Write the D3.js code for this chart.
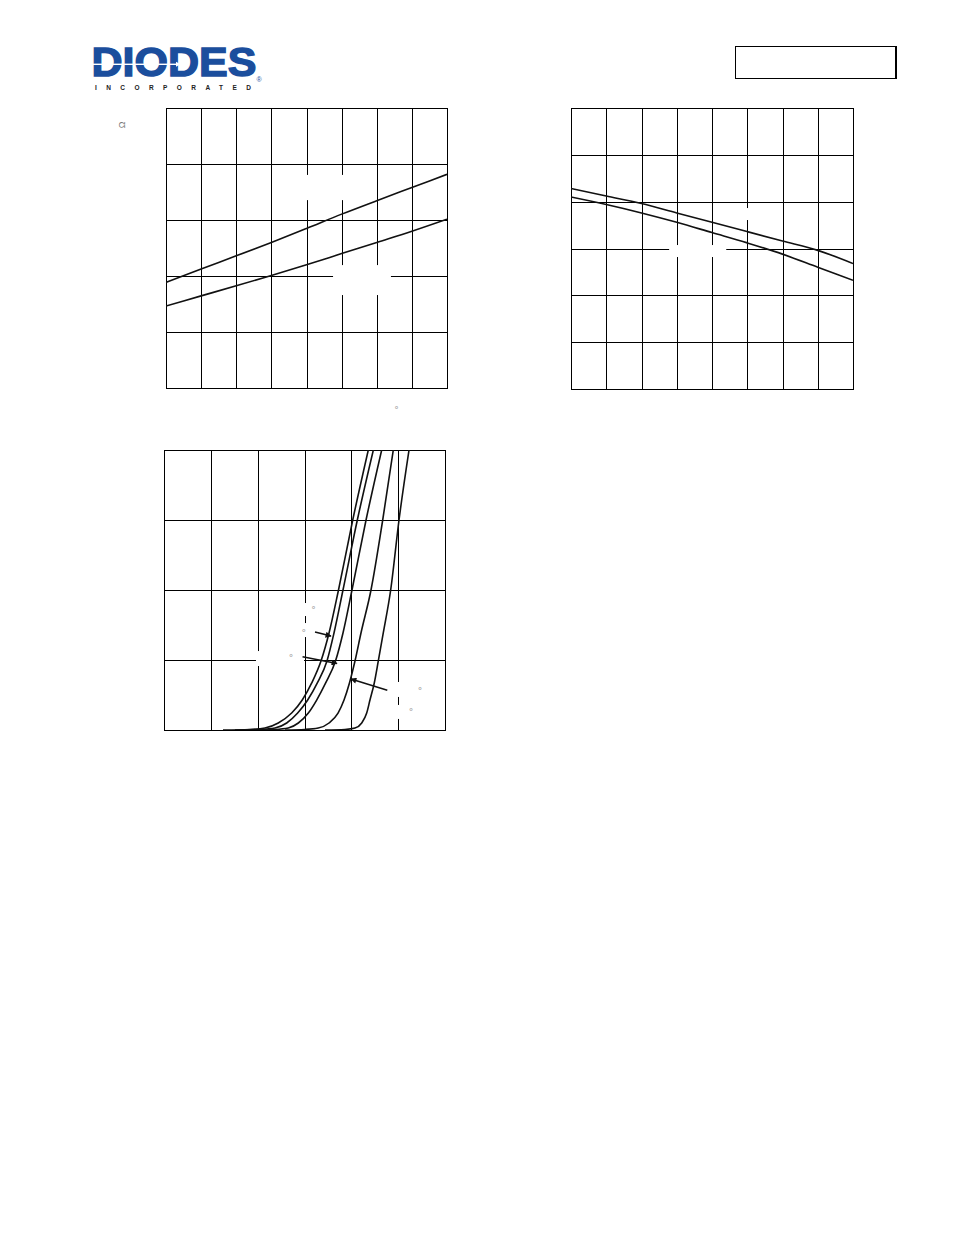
<!DOCTYPE html>
<html><head><meta charset="utf-8">
<script src="https://cdn.jsdelivr.net/npm/d3@7"></script>
<style>body{margin:0;background:#fff}svg{display:block}</style>
</head><body><div id="c"></div>
<script>
// ---------- data ----------
// Chart 1: on-resistance vs temperature
const temps = [-50, -25, 0, 25, 50, 75, 100, 125, 150];
const rdsUpper = [0.0377, 0.0425, 0.0472, 0.0520, 0.0570, 0.0621, 0.0669, 0.0716, 0.0763];
const rdsLower = [0.0293, 0.0329, 0.0365, 0.0402, 0.0440, 0.0480, 0.0520, 0.0560, 0.0603];
const rdsTicks = [0, 0.02, 0.04, 0.06, 0.08, 0.10];
const tempTicks = [-50, -25, 0, 25, 50, 75, 100, 125, 150];
// Chart 2: gate threshold voltage vs temperature
const vthUpper = [2.14, 2.06, 1.98, 1.88, 1.78, 1.68, 1.58, 1.48, 1.34];
const vthLower = [2.05, 1.97, 1.88, 1.78, 1.67, 1.56, 1.44, 1.30, 1.16];
const vthTicks = [0, 0.5, 1, 1.5, 2, 2.5, 3];
// Chart 3: drain current vs gate-source voltage (five temperatures)
const idLevels = [0, 0.04, 0.14, 0.5, 1.21, 2.14, 3.36, 4.93, 6.93, 10, 15, 20];
const vgsCurve1 = [0.630, 0.918, 1.078, 1.220, 1.363, 1.476, 1.577, 1.676, 1.762, 1.863, 2.015, 2.181];
const vgsCurve2 = [0.758, 1.025, 1.185, 1.310, 1.427, 1.534, 1.637, 1.740, 1.815, 1.911, 2.064, 2.235];
const vgsCurve3 = [0.918, 1.185, 1.327, 1.434, 1.541, 1.630, 1.726, 1.831, 1.911, 2.007, 2.157, 2.324];
const vgsCurve4 = [1.292, 1.505, 1.647, 1.762, 1.858, 1.922, 1.980, 2.039, 2.103, 2.210, 2.335, 2.448];
const vgsCurve5 = [1.719, 1.932, 2.039, 2.111, 2.164, 2.199, 2.245, 2.288, 2.341, 2.420, 2.509, 2.616];
const vgsTicks = [0, 0.5, 1, 1.5, 2, 2.5, 3];
const idTicks = [0, 5, 10, 15, 20];

// ---------- drawing ----------
const svg = d3.select("#c").append("svg").attr("width", 954).attr("height", 1235);

// header logo
const logo = svg.append("g");
logo.append("text").attr("x", 91.5).attr("y", 76).text("DIODES")
  .attr("font-family", "Liberation Sans, Arial, sans-serif").attr("font-weight", "bold")
  .attr("font-size", 41).attr("textLength", 165).attr("lengthAdjust", "spacingAndGlyphs")
  .attr("fill", "#1b4e9d").attr("stroke", "#1b4e9d").attr("stroke-width", 1.4)
  .attr("stroke-linejoin", "miter");
logo.append("rect").attr("x", 90).attr("y", 63.6).attr("width", 87).attr("height", 1.4).attr("fill", "#fff");
logo.append("path").attr("d", "M176,61.8 L180.5,64.3 L176,66.8 Z").attr("fill", "#fff");
logo.append("text").attr("x", 256.5).attr("y", 82).text("®")
  .attr("font-family", "Liberation Sans, sans-serif").attr("font-size", 7).attr("fill", "#1b4e9d");
logo.append("text").attr("x", 95).attr("y", 89.5).text("INCORPORATED")
  .attr("font-family", "Liberation Sans, sans-serif").attr("font-weight", "bold")
  .attr("font-size", 6.5).attr("textLength", 156).attr("lengthAdjust", "spacing").attr("fill", "#222");

// header box
svg.append("rect").attr("x", 735.5).attr("y", 46.5).attr("width", 160).attr("height", 32)
  .attr("fill", "none").attr("stroke", "#000").attr("stroke-width", 1);
svg.append("line").attr("x1", 896).attr("x2", 896).attr("y1", 46).attr("y2", 79)
  .attr("stroke", "#000").attr("stroke-width", 2);

svg.append("defs").append("marker").attr("id", "arr").attr("viewBox", "0 0 10 10")
  .attr("refX", 9).attr("refY", 5).attr("markerWidth", 7).attr("markerHeight", 6)
  .attr("markerUnits", "userSpaceOnUse").attr("orient", "auto")
  .append("path").attr("d", "M0,0 L10,5 L0,10 Z").attr("fill", "#111");

function chart(o) {
  const g = svg.append("g").attr("transform", `translate(${o.left},${o.top})`);
  const x = d3.scaleLinear().domain(o.xDomain).range([0, o.width]);
  const y = d3.scaleLinear().domain(o.yDomain).range([o.height, 0]);
  const clipId = "clip" + o.id;
  g.append("clipPath").attr("id", clipId).append("rect").attr("width", o.width).attr("height", o.height);
  // grid via axes
  g.append("g").attr("transform", `translate(0,${o.height})`)
    .call(d3.axisBottom(x).tickValues(o.xTicks).tickSize(-o.height).tickFormat(""))
    .call(s => { s.select(".domain").remove(); s.selectAll("line").attr("stroke", "#000").attr("stroke-width", 1).attr("shape-rendering", "crispEdges"); });
  g.append("g")
    .call(d3.axisLeft(y).tickValues(o.yTicks).tickSize(-o.width).tickFormat(""))
    .call(s => { s.select(".domain").remove(); s.selectAll("line").attr("stroke", "#000").attr("stroke-width", 1).attr("shape-rendering", "crispEdges"); });
  g.append("rect").attr("width", o.width).attr("height", o.height).attr("fill", "none")
    .attr("stroke", "#000").attr("stroke-width", 1).attr("shape-rendering", "crispEdges");
  // label backgrounds (white)
  (o.boxes || []).forEach(b => {
    g.append("rect").attr("x", x(b[0])).attr("y", y(b[3]))
      .attr("width", x(b[1]) - x(b[0])).attr("height", y(b[2]) - y(b[3])).attr("fill", "#fff");
  });
  const line = d3.line().x(d => x(d[0])).y(d => y(d[1])).curve(o.curve || d3.curveMonotoneX);
  o.series.forEach(s => {
    g.append("path").attr("d", line(s)).attr("fill", "none").attr("stroke", "#111")
      .attr("stroke-width", 1.6).attr("clip-path", `url(#${clipId})`);
  });
  (o.arrows || []).forEach(a => {
    g.append("line").attr("x1", x(a[0])).attr("y1", y(a[1])).attr("x2", x(a[2])).attr("y2", y(a[3]))
      .attr("stroke", "#111").attr("stroke-width", 1.5).attr("marker-end", "url(#arr)");
  });
  (o.degrees || []).forEach(p => {
    g.append("text").attr("x", x(p[0])).attr("y", y(p[1]) + 5.5).text("°")
      .attr("text-anchor", "middle").attr("font-family", "DejaVu Sans, sans-serif")
      .attr("font-size", 9).attr("fill", "#999");
  });
  return { g, x, y };
}

const zip = (a, b) => a.map((v, i) => [v, b[i]]);

chart({
  id: 1, left: 166, top: 108, width: 281, height: 280,
  xDomain: [-50, 150], yDomain: [0, 0.10], xTicks: tempTicks, yTicks: rdsTicks,
  series: [zip(temps, rdsUpper), zip(temps, rdsLower)],
  boxes: [[42.5, 83.8, 0.0671, 0.0761], [68.9, 110.1, 0.0332, 0.0439]]
});

chart({
  id: 2, left: 571, top: 108, width: 282, height: 281,
  xDomain: [-50, 150], yDomain: [0, 3], xTicks: tempTicks, yTicks: vthTicks,
  series: [zip(temps, vthUpper), zip(temps, vthLower)],
  boxes: [[57.3, 91.4, 1.804, 1.932], [19.6, 60.1, 1.409, 1.537]]
});

chart({
  id: 3, left: 164, top: 450, width: 281, height: 280,
  xDomain: [0, 3], yDomain: [0, 20], xTicks: vgsTicks, yTicks: idTicks,
  series: [vgsCurve1, vgsCurve2, vgsCurve3, vgsCurve4, vgsCurve5].map(v => zip(v, idLevels)),
  boxes: [[1.238, 1.687, 8.14, 9.07], [1.046, 1.580, 6.64, 7.64], [0.982, 1.495, 4.57, 5.64],
          [2.413, 2.786, 2.36, 3.43], [2.359, 2.712, 0.79, 1.79]],
  arrows: [[1.612, 7.0, 1.783, 6.71], [1.479, 5.24, 1.847, 4.75], [2.384, 2.84, 1.996, 3.64]],
  degrees: [[1.595, 8.74], [1.492, 7.09], [1.356, 5.31], [2.733, 2.93], [2.637, 1.5]]
});

// visible fragments of axis titles
svg.append("text").attr("transform", "translate(125,125) rotate(-90)").text("Ω")
  .attr("text-anchor", "middle").attr("font-family", "Liberation Sans, sans-serif")
  .attr("font-size", 9).attr("fill", "#777");
svg.append("text").attr("x", 396.5).attr("y", 413).text("°").attr("text-anchor", "middle")
  .attr("font-family", "DejaVu Sans, sans-serif").attr("font-size", 9).attr("fill", "#999");
</script></body></html>
